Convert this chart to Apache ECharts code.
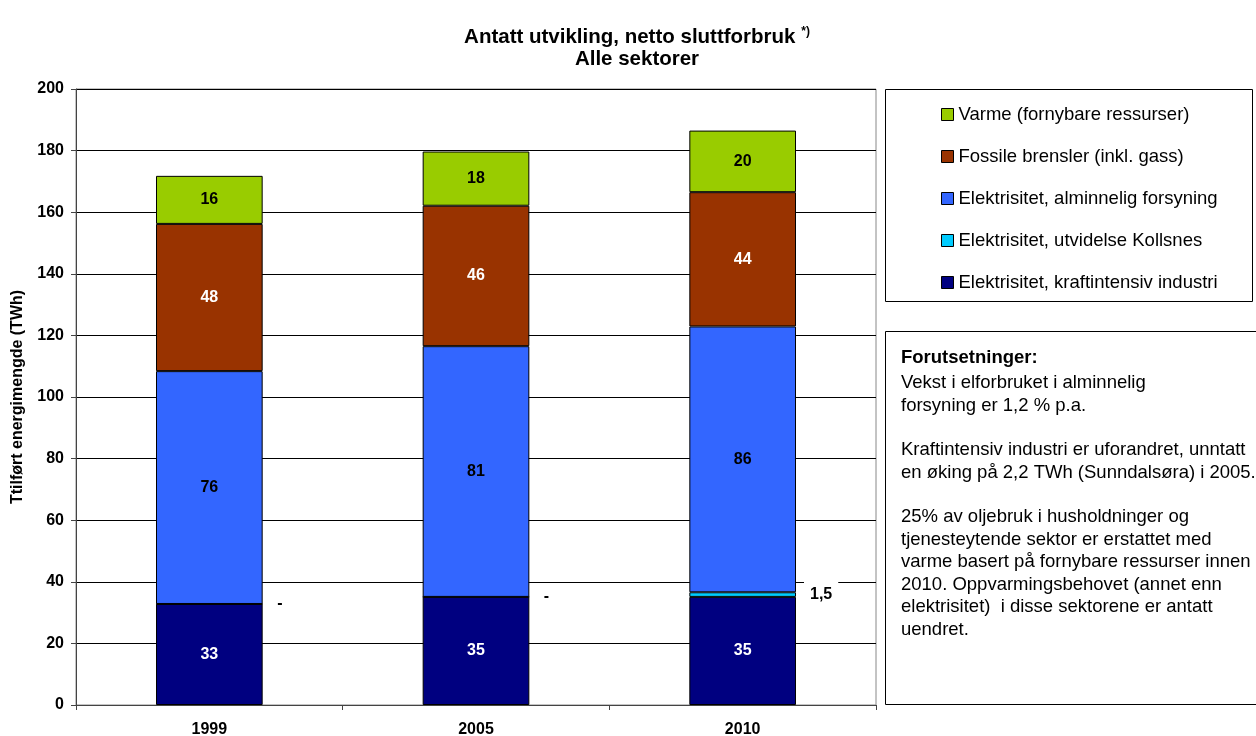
<!DOCTYPE html>
<html>
<head>
<meta charset="utf-8">
<script src="https://cdn.jsdelivr.net/npm/echarts@6/dist/echarts.min.js"></script>
<style>
  html, body { margin: 0; padding: 0; background: #fff; }
  #chart { width: 1256px; height: 736px; }
</style>
</head>
<body>
<div id="chart"></div>
<script>
const years = ['1999', '2005', '2010'];

// stacked from the bottom up
const kraftintensiv = [32.8, 35.1, 35.1];
const kollsnes = [0, 0, 1.5];
const alminnelig = [75.6, 81.4, 86.3];
const fossile = [47.8, 45.6, 43.6];
const varme = [15.6, 17.6, 20.0];

const names = [
    'Elektrisitet, kraftintensiv industri',
    'Elektrisitet, utvidelse Kollsnes',
    'Elektrisitet, alminnelig forsyning',
    'Fossile brensler (inkl. gass)',
    'Varme (fornybare ressurser)'
];
const colors = ['#000080', '#00CCFF', '#3366FF', '#993300', '#99CC00'];

const yTicks = { min: 0, max: 200, interval: 20 };

const font = 'Arial, "Liberation Sans", sans-serif';

const chart = echarts.init(document.getElementById('chart'));

const barSeries = (name, data, color, labelColor) => ({
    name,
    type: 'bar',
    stack: 'total',
    data,
    barWidth: '40%',
    itemStyle: { color, borderColor: '#000', borderWidth: 1 },
    label: {
        show: true,
        position: 'inside',
        color: labelColor,
        fontFamily: font,
        fontWeight: 'bold',
        fontSize: 16,
        formatter: p => Math.round(p.value)
    }
});

chart.setOption({
    animation: false,
    textStyle: { fontFamily: font },
    title: {
        left: 632,
        top: 21,
        textAlign: 'center',
        text: '{a|Antatt utvikling, netto sluttforbruk }{s|*)}\n{a|Alle sektorer}',
        textStyle: {
            rich: {
                a: { fontFamily: font, fontSize: 20.5, fontWeight: 'bold', color: '#000', lineHeight: 22 },
                s: { fontFamily: font, fontSize: 12, fontWeight: 'bold', color: '#000', verticalAlign: 'top', lineHeight: 22, padding: [0, 0, 14, 0] }
            }
        }
    },
    grid: {
        left: 76, right: 380, top: 89, bottom: 31,
        outerBoundsMode: 'none',
        containLabel: false,
        show: true, borderColor: '#888', borderWidth: 1
    },
    legend: {
        orient: 'vertical',
        left: 936,
        top: 100,
        itemGap: 23,
        itemWidth: 12,
        itemHeight: 12,
        icon: 'rect',
        data: names.slice().reverse(),
        itemStyle: { borderColor: '#000', borderWidth: 1 },
        textStyle: { fontFamily: font, fontSize: 18.5, color: '#000' }
    },
    xAxis: {
        type: 'category',
        data: years,
        axisLine: { lineStyle: { color: '#444' } },
        axisTick: { show: true, length: 5, lineStyle: { color: '#444' } },
        axisLabel: { color: '#000', fontWeight: 'bold', fontSize: 16, margin: 17, fontFamily: font }
    },
    yAxis: {
        type: 'value',
        min: yTicks.min,
        max: yTicks.max,
        interval: yTicks.interval,
        name: 'Ttilført energimengde (TWh)',
        nameLocation: 'middle',
        nameGap: 50,
        nameTextStyle: { color: '#000', fontWeight: 'bold', fontSize: 16, fontFamily: font },
        axisLine: { show: true, lineStyle: { color: '#444' } },
        axisTick: { show: true, length: 5, lineStyle: { color: '#444' } },
        axisLabel: { color: '#000', fontWeight: 'bold', fontSize: 16, margin: 12, fontFamily: font },
        splitLine: { lineStyle: { color: '#000', width: 1 } }
    },
    series: [
        barSeries(names[0], kraftintensiv, colors[0], '#fff'),
        Object.assign(barSeries(names[1], kollsnes, colors[1], '#000'), {
            label: {
                show: true,
                position: 'right',
                distance: 8,
                offset: [0, 0],
                color: '#000',
                fontFamily: font,
                fontWeight: 'bold',
                fontSize: 16,
                backgroundColor: '#fff',
                padding: [9, 6, 2, 6],
                formatter: p => p.value ? String(p.value).replace('.', ',') : '-'
            }
        }),
        barSeries(names[2], alminnelig, colors[2], '#000'),
        barSeries(names[3], fossile, colors[3], '#fff'),
        barSeries(names[4], varme, colors[4], '#000')
    ],
    graphic: [
        {
            type: 'rect',
            shape: { x: 885.5, y: 89.5, width: 367, height: 212 },
            style: { fill: 'none', stroke: '#000', lineWidth: 1 },
            z: -1
        },
        {
            type: 'rect',
            shape: { x: 885.5, y: 331.5, width: 375, height: 373 },
            style: { fill: 'none', stroke: '#000', lineWidth: 1 }
        },
        {
            type: 'text',
            left: 901, top: 348,
            style: { text: 'Forutsetninger:', font: 'bold 18.5px ' + font, fill: '#000' }
        },
        {
            type: 'text',
            left: 901, top: 372,
            style: {
                text: 'Vekst i elforbruket i alminnelig\nforsyning er 1,2 % p.a.',
                font: '18.5px ' + font, fill: '#000', lineHeight: 22.5
            }
        },
        {
            type: 'text',
            left: 901, top: 439,
            style: {
                text: 'Kraftintensiv industri er uforandret, unntatt\nen øking på 2,2 TWh (Sunndalsøra) i 2005.',
                font: '18.5px ' + font, fill: '#000', lineHeight: 22.5
            }
        },
        {
            type: 'text',
            left: 901, top: 506,
            style: {
                text: '25% av oljebruk i husholdninger og\ntjenesteytende sektor er erstattet med\nvarme basert på fornybare ressurser innen\n2010. Oppvarmingsbehovet (annet enn\nelektrisitet)  i disse sektorene er antatt\nuendret.',
                font: '18.5px ' + font, fill: '#000', lineHeight: 22.5
            }
        }
    ]
});
</script>
</body>
</html>
